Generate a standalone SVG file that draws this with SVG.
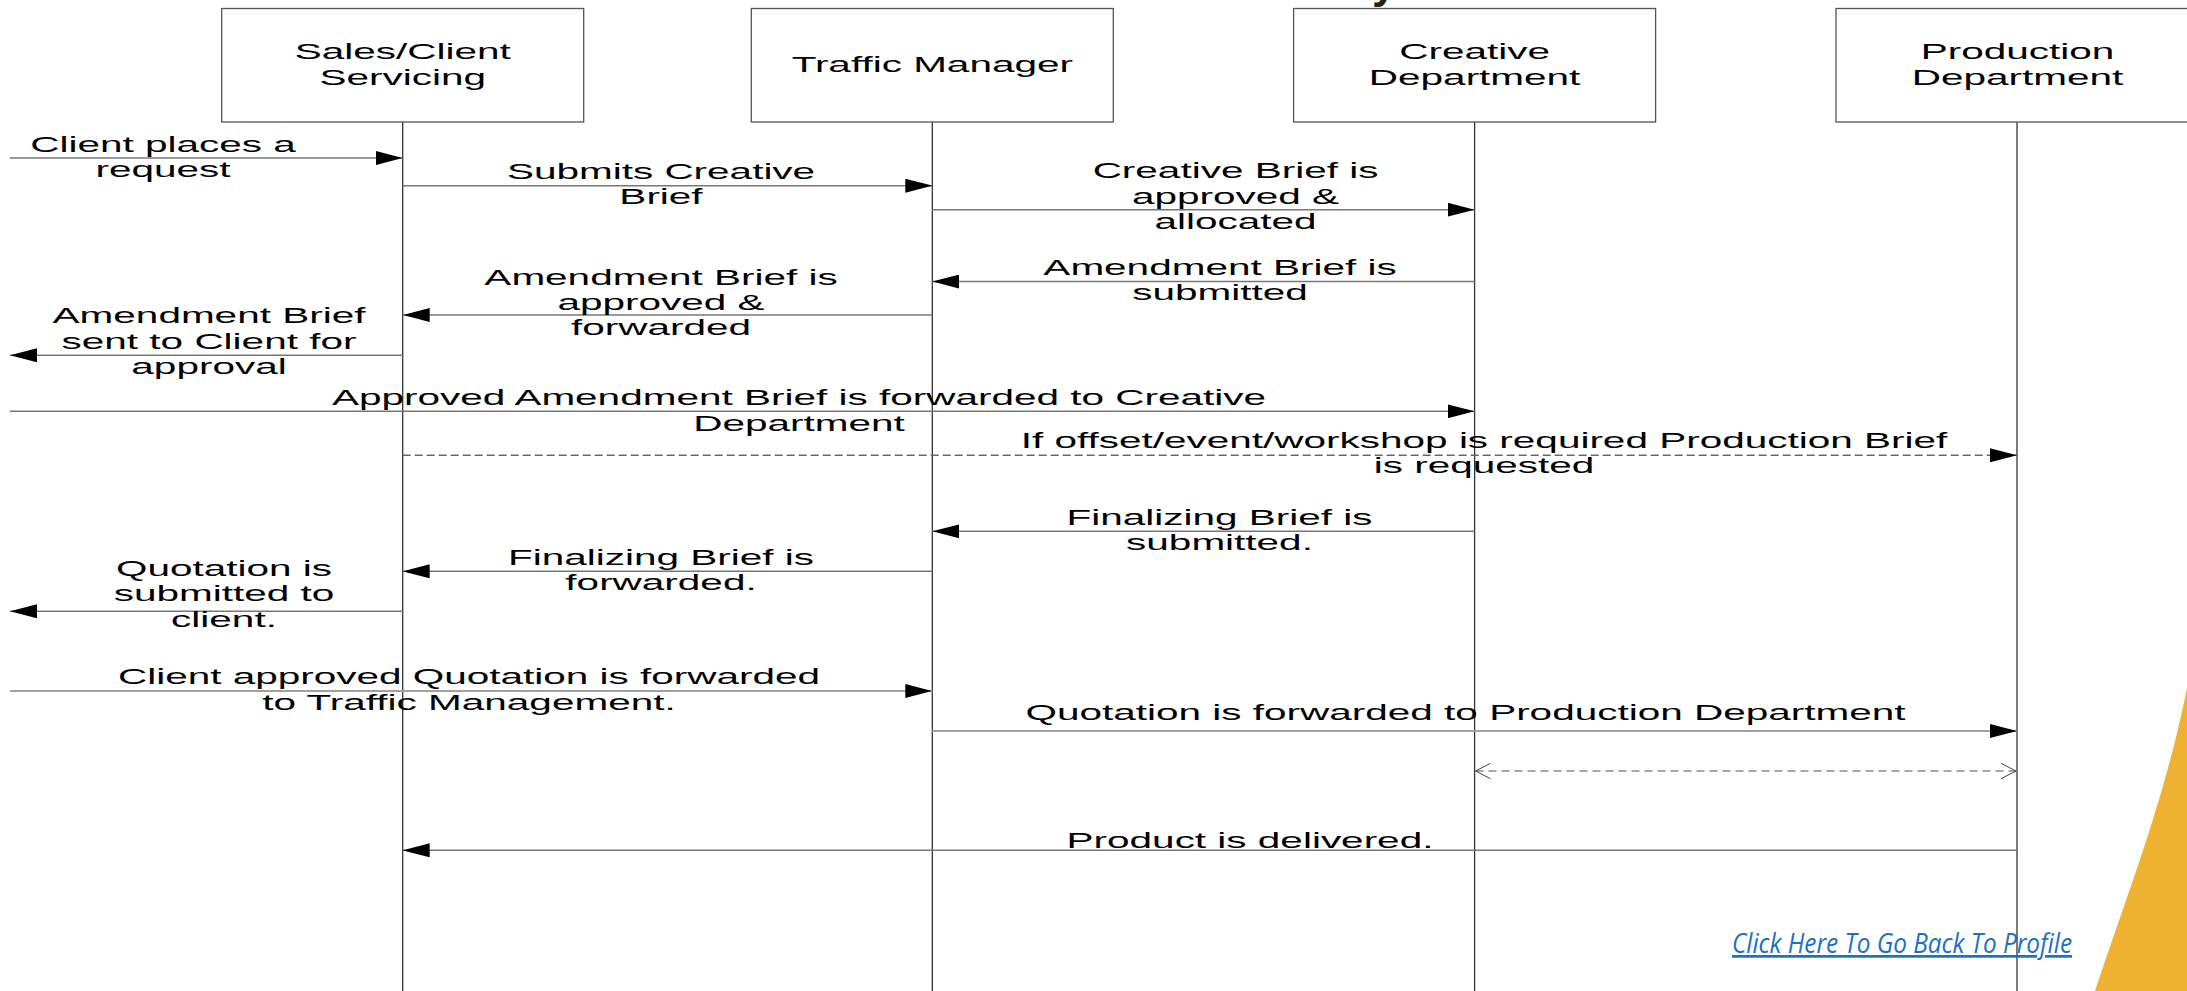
<svg xmlns="http://www.w3.org/2000/svg" width="2187" height="991" viewBox="0 0 2187 991">
<style>
.box{fill:#fff;stroke:#555;stroke-width:1.3}
.life{stroke:#333;stroke-width:1.3;fill:none}
.msg{stroke:#777;stroke-width:1.5;fill:none;marker-end:url(#fa)}
.msg2{stroke:#a0a0a0;stroke-width:2.2;fill:none;marker-end:url(#fa)}
.dash{stroke:#666;stroke-width:1.4;fill:none;stroke-dasharray:8 4;marker-end:url(#fa)}
.dash2{stroke:#a6a6a6;stroke-width:2;fill:none;stroke-dasharray:8 5;marker-start:url(#oa);marker-end:url(#oa)}
.t{font-family:"Liberation Sans",Arial,sans-serif;font-size:22.5px;fill:#000;text-anchor:middle}
</style>
<defs>
<marker id="fa" viewBox="0 0 27 14" refX="27" refY="7" markerWidth="27" markerHeight="14" markerUnits="userSpaceOnUse" orient="auto">
<path d="M0,0 L27,7 L0,14 z" fill="#000"/>
</marker>
<marker id="oa" viewBox="0 0 17 17" refX="16" refY="8.5" markerWidth="17" markerHeight="17" markerUnits="userSpaceOnUse" orient="auto-start-reverse">
<path d="M1,0.8 L16,8.5 L1,16.2" fill="none" stroke="#444" stroke-width="1" stroke-dasharray="none"/>
</marker>
</defs>
<rect width="2187" height="991" fill="#fff"/>
<text x="1372" y="-2" font-family="Liberation Sans,Arial,sans-serif" font-weight="bold" font-size="44" fill="#222">y</text>
<path d="M2187,688 C2165,800 2125,900 2095,991 L2187,991 Z" fill="#EEB131"/>

<g id="lifelines">
<line class="life" x1="402.7" y1="122" x2="402.7" y2="991"/>
<line class="life" x1="932.3" y1="122" x2="932.3" y2="991"/>
<line class="life" x1="1474.6" y1="122" x2="1474.6" y2="991"/>
<line class="life" x1="2017" y1="122" x2="2017" y2="991"/>
</g>

<g id="sales">
<rect class="box" x="221.7" y="8.5" width="362" height="113.5"/>
<text class="t" transform="translate(402.7 0) scale(1.8 1)"><tspan x="0" y="59.3">Sales/Client</tspan><tspan x="0" y="85">Servicing</tspan></text>
</g>
<g id="traffic">
<rect class="box" x="751.3" y="8.5" width="362" height="113.5"/>
<text class="t" transform="translate(932.3 0) scale(1.8 1)"><tspan x="0" y="72.5">Traffic Manager</tspan></text>
</g>
<g id="creative">
<rect class="box" x="1293.6" y="8.5" width="362" height="113.5"/>
<text class="t" transform="translate(1474.6 0) scale(1.8 1)"><tspan x="0" y="59.3">Creative</tspan><tspan x="0" y="85">Department</tspan></text>
</g>
<g id="production">
<rect class="box" x="1836" y="8.5" width="362" height="113.5"/>
<text class="t" transform="translate(2017.5 0) scale(1.8 1)"><tspan x="0" y="59.3">Production</tspan><tspan x="0" y="85">Department</tspan></text>
</g>

<g id="connectors">
<line class="msg" x1="10" y1="158" x2="402.7" y2="158"/>
<line class="msg" x1="402.7" y1="185.7" x2="932.3" y2="185.7"/>
<line class="msg" x1="932.3" y1="209.7" x2="1474.6" y2="209.7"/>
<line class="msg" x1="1474.6" y1="281.5" x2="932.3" y2="281.5"/>
<line class="msg" x1="932.3" y1="315" x2="402.7" y2="315"/>
<line class="msg" x1="402.7" y1="355.3" x2="10" y2="355.3"/>
<line class="msg" x1="10" y1="411.3" x2="1474.6" y2="411.3"/>
<line class="dash" x1="402.7" y1="455.3" x2="2017" y2="455.3"/>
<line class="msg" x1="1474.6" y1="531.3" x2="932.3" y2="531.3"/>
<line class="msg" x1="932.3" y1="571.3" x2="402.7" y2="571.3"/>
<line class="msg" x1="402.7" y1="611.3" x2="10" y2="611.3"/>
<line class="msg2" x1="10" y1="691" x2="932.3" y2="691"/>
<line class="msg2" x1="932.3" y1="731" x2="2017" y2="731"/>
<line class="dash2" x1="1475.5" y1="771" x2="2016" y2="771"/>
<line class="msg" x1="2017" y1="850.3" x2="402.7" y2="850.3"/>
</g>

<g id="labels">
<text class="t" transform="translate(163 0) scale(1.8 1)"><tspan x="0" y="152">Client places a</tspan><tspan x="0" y="177">request</tspan></text>
<text class="t" transform="translate(661 0) scale(1.8 1)"><tspan x="0" y="179">Submits Creative</tspan><tspan x="0" y="204">Brief</tspan></text>
<text class="t" transform="translate(1235.5 0) scale(1.8 1)"><tspan x="0" y="178.5">Creative Brief is</tspan><tspan x="0" y="204">approved &amp;</tspan><tspan x="0" y="229.5">allocated</tspan></text>
<text class="t" transform="translate(1220 0) scale(1.8 1)"><tspan x="0" y="275">Amendment Brief is</tspan><tspan x="0" y="300.5">submitted</tspan></text>
<text class="t" transform="translate(661 0) scale(1.8 1)"><tspan x="0" y="285">Amendment Brief is</tspan><tspan x="0" y="310">approved &amp;</tspan><tspan x="0" y="335.5">forwarded</tspan></text>
<text class="t" transform="translate(209 0) scale(1.8 1)"><tspan x="0" y="323.3">Amendment Brief</tspan><tspan x="0" y="349">sent to Client for</tspan><tspan x="0" y="374.5">approval</tspan></text>
<text class="t" transform="translate(799 0) scale(1.8 1)"><tspan x="0" y="405">Approved Amendment Brief is forwarded to Creative</tspan><tspan x="0" y="431">Department</tspan></text>
<text class="t" transform="translate(1484 0) scale(1.8 1)"><tspan x="0" y="448.3">If offset/event/workshop is required Production Brief</tspan><tspan x="0" y="473.5">is requested</tspan></text>
<text class="t" transform="translate(1219.5 0) scale(1.8 1)"><tspan x="0" y="525">Finalizing Brief is</tspan><tspan x="0" y="550.5">submitted.</tspan></text>
<text class="t" transform="translate(661 0) scale(1.8 1)"><tspan x="0" y="565">Finalizing Brief is</tspan><tspan x="0" y="590.5">forwarded.</tspan></text>
<text class="t" transform="translate(224 0) scale(1.8 1)"><tspan x="0" y="576">Quotation is</tspan><tspan x="0" y="601.5">submitted to</tspan><tspan x="0" y="627">client.</tspan></text>
<text class="t" transform="translate(469 0) scale(1.8 1)"><tspan x="0" y="684.3">Client approved Quotation is forwarded</tspan><tspan x="0" y="709.8">to Traffic Management.</tspan></text>
<text class="t" transform="translate(1465.5 0) scale(1.8 1)"><tspan x="0" y="720">Quotation is forwarded to Production Department</tspan></text>
<text class="t" transform="translate(1250 0) scale(1.8 1)"><tspan x="0" y="848">Product is delivered.</tspan></text>
</g>

<g id="link">
<text x="1732" y="953" font-family="Open Sans,Liberation Sans,sans-serif" font-style="italic" font-size="27" fill="#1a6fc9" text-decoration="underline" textLength="340" lengthAdjust="spacingAndGlyphs">Click Here To Go Back To Profile</text>
</g>
</svg>
